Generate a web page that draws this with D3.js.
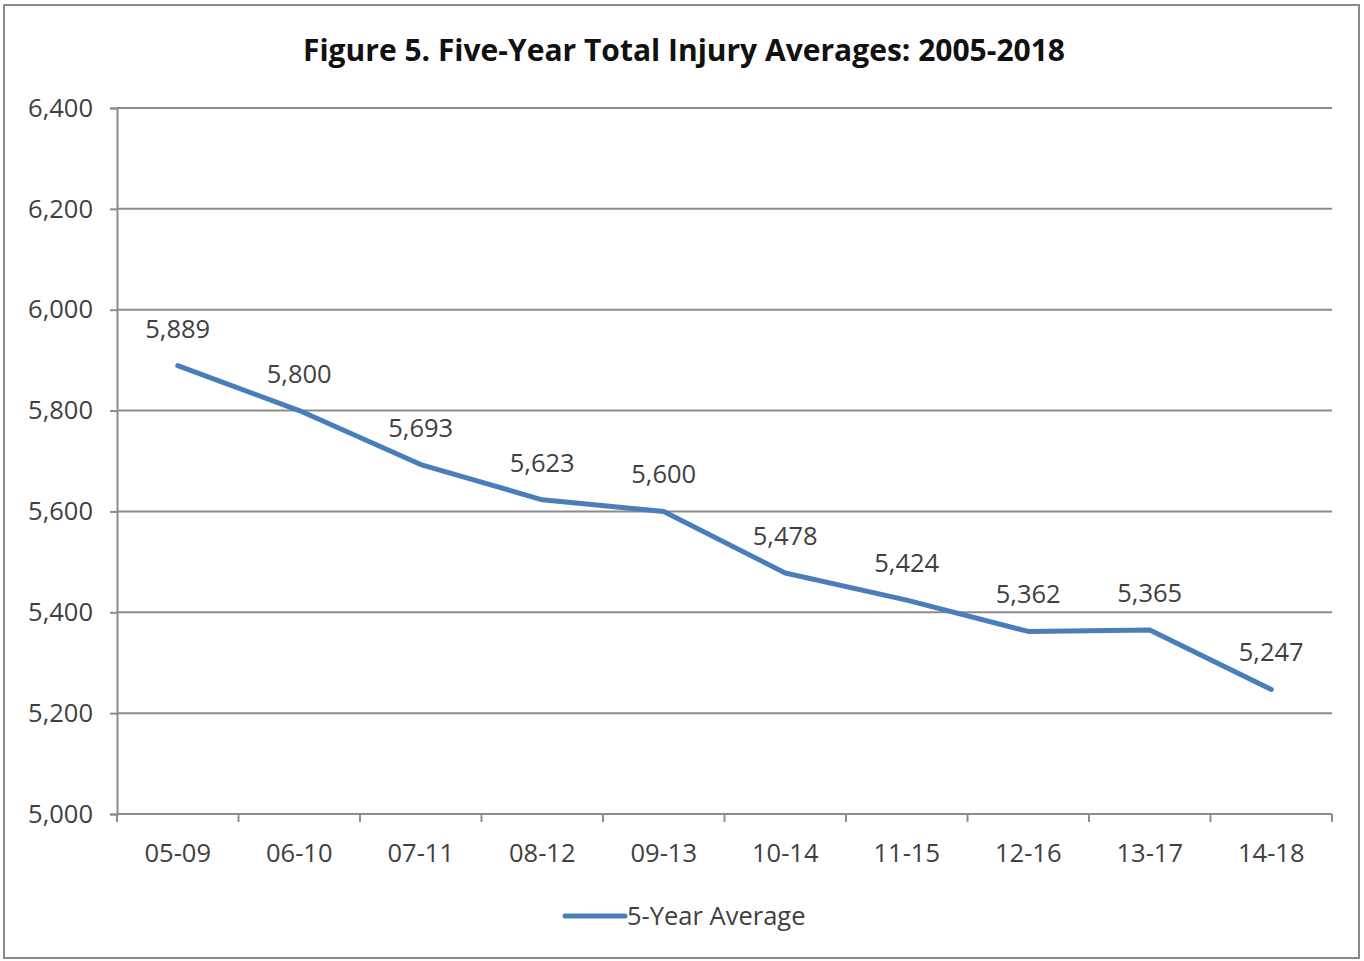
<!DOCTYPE html>
<html>
<head>
<meta charset="utf-8">
<script src="https://cdn.jsdelivr.net/npm/d3@7"></script>
<style>
  body { margin: 0; background: #fff; }
  text { font-family: "Open Sans", sans-serif; }
</style>
</head>
<body>
<div id="chart"></div>
<script>
const periods = ["05-09", "06-10", "07-11", "08-12", "09-13", "10-14", "11-15", "12-16", "13-17", "14-18"];
const averages = [5889, 5800, 5693, 5623, 5600, 5478, 5424, 5362, 5365, 5247];
const yTicks = [5000, 5200, 5400, 5600, 5800, 6000, 6200, 6400];
const title = "Figure 5. Five-Year Total Injury Averages: 2005-2018";
const seriesName = "5-Year Average";

const width = 1364, height = 961;
const margin = { top: 108, right: 32, bottom: 147, left: 117 };
const blue = "#4a7ebb", grey = "#8c8c8c", ink = "#404040";
const fontSize = 25.5;

const svg = d3.select("#chart").append("svg")
  .attr("width", width)
  .attr("height", height);

// outer frame
svg.append("rect")
  .attr("x", 4).attr("y", 5)
  .attr("width", 1355).attr("height", 953)
  .attr("fill", "#fff")
  .attr("stroke", "#8a8a8a")
  .attr("stroke-width", 2);

const x = d3.scaleBand()
  .domain(periods)
  .range([margin.left, width - margin.right]);

const y = d3.scaleLinear()
  .domain([5000, 6400])
  .range([height - margin.bottom, margin.top]);

svg.append("text")
  .attr("x", 684).attr("y", 61)
  .attr("text-anchor", "middle")
  .attr("font-size", 30)
  .attr("font-weight", "bold")
  .attr("fill", "#111")
  .text(title);

// gridlines
svg.append("g")
  .selectAll("line")
  .data(yTicks.filter(t => t > 5000))
  .join("line")
  .attr("x1", margin.left).attr("x2", width - margin.right)
  .attr("y1", d => y(d)).attr("y2", d => y(d))
  .attr("stroke", grey)
  .attr("stroke-width", 2);

// y axis
const yAxis = svg.append("g")
  .attr("transform", `translate(${margin.left},0)`)
  .call(d3.axisLeft(y).tickValues(yTicks).tickFormat(d3.format(",")).tickSize(7).tickPadding(17));
yAxis.select(".domain").attr("stroke", grey).attr("stroke-width", 2);
yAxis.selectAll(".tick line").attr("stroke", grey).attr("stroke-width", 2);
yAxis.selectAll(".tick text").attr("font-size", fontSize).attr("fill", ink).attr("font-family", "'Open Sans', sans-serif");

// x axis with ticks at band boundaries
const xAxis = svg.append("g")
  .attr("transform", `translate(0,${height - margin.bottom})`)
  .call(d3.axisBottom(x).tickSize(0).tickPadding(30));
xAxis.select(".domain").attr("stroke", grey).attr("stroke-width", 2).attr("d", `M${margin.left},0H${width - margin.right}`);
xAxis.selectAll(".tick text").attr("font-size", fontSize).attr("fill", ink).attr("font-family", "'Open Sans', sans-serif");
xAxis.selectAll(".bound")
  .data(periods.map(p => x(p)).concat([x(periods[periods.length - 1]) + x.bandwidth()]))
  .join("line")
  .attr("x1", d => d).attr("x2", d => d)
  .attr("y1", 0).attr("y2", 8)
  .attr("stroke", grey).attr("stroke-width", 2);

const cx = p => x(p) + x.bandwidth() / 2;

svg.append("path")
  .datum(averages)
  .attr("fill", "none")
  .attr("stroke", blue)
  .attr("stroke-width", 5)
  .attr("stroke-linecap", "round")
  .attr("stroke-linejoin", "round")
  .attr("d", d3.line().x((d, i) => cx(periods[i])).y(d => y(d)));

svg.append("g")
  .selectAll("text")
  .data(averages)
  .join("text")
  .attr("x", (d, i) => cx(periods[i]))
  .attr("y", d => y(d) - 28)
  .attr("text-anchor", "middle")
  .attr("font-size", fontSize)
  .attr("fill", ink)
  .text(d3.format(","));

// legend
const legend = svg.append("g").attr("transform", "translate(565,916)");
legend.append("line")
  .attr("x1", 0).attr("x2", 60)
  .attr("stroke", blue).attr("stroke-width", 5)
  .attr("stroke-linecap", "round");
legend.append("text")
  .attr("x", 62).attr("y", 9)
  .attr("font-size", fontSize)
  .attr("fill", ink)
  .text(seriesName);
</script>
</body>
</html>
